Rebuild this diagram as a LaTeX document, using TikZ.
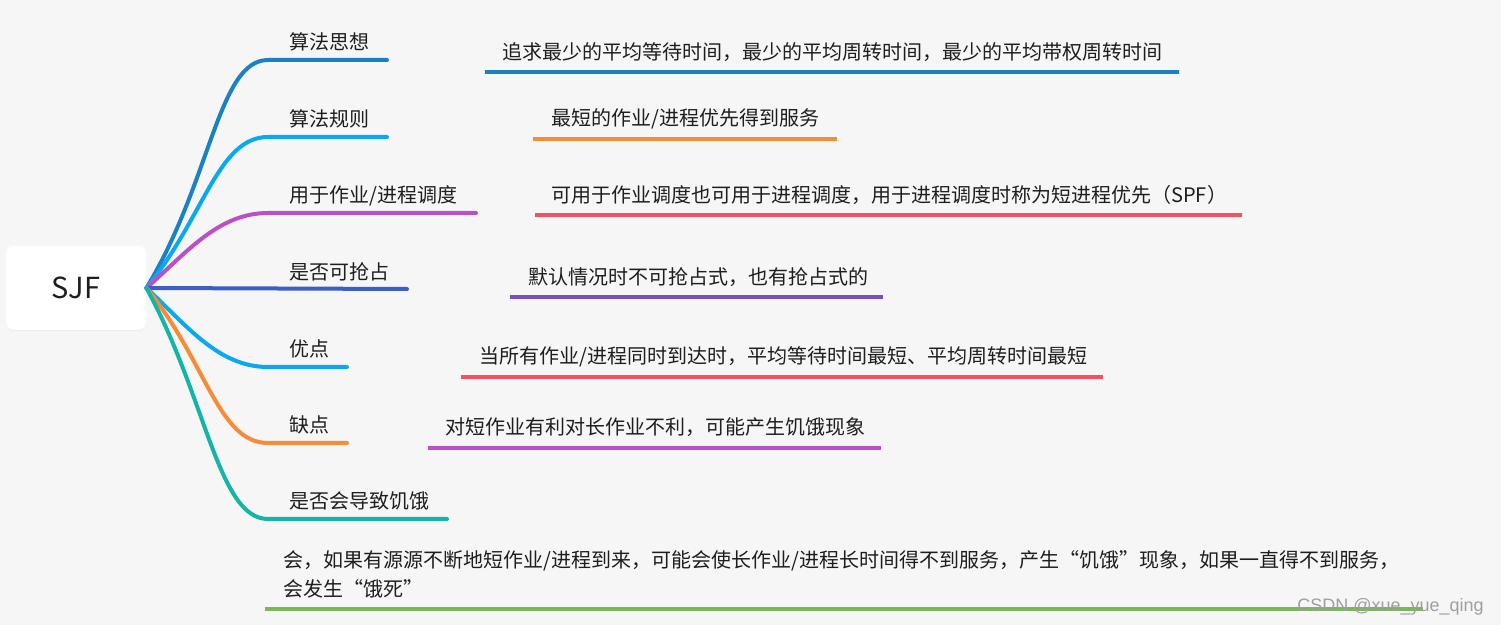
\documentclass[tikz,border=0pt]{standalone}
\usepackage{fontspec}
\setmainfont{Noto Sans CJK SC}
\newfontfamily\markfont{Liberation Sans}
\usetikzlibrary{shadows}
\definecolor{sjfBg}{HTML}{F6F6F6}
\definecolor{sjfText}{HTML}{1E1E1E}
\definecolor{sjfBlueDark}{HTML}{1A82C4}
\definecolor{sjfBlueLight}{HTML}{0AA8EE}
\definecolor{sjfPurple}{HTML}{BB4FC7}
\definecolor{sjfIndigo}{HTML}{3D5EC4}
\definecolor{sjfOrange}{HTML}{F68B38}
\definecolor{sjfTeal}{HTML}{13B5A6}
\definecolor{sjfRed}{HTML}{F64F62}
\definecolor{sjfViolet}{HTML}{7A4FC3}
\definecolor{sjfGreen}{HTML}{7BB75A}
\begin{document}
\begin{tikzpicture}
% SJF mind map, coordinates in pixels of the screenshot
\def\px{0.5pt}
\providecommand{\sjfBranchWidth}{2pt}
\providecommand{\sjfLineWidth}{1.8pt}
\begin{scope}[x=\px, y=-\px, line cap=round, line join=round,
  branch/.style={line width=\sjfBranchWidth},
  uline/.style={line width=\sjfLineWidth, line cap=butt},
  lbl/.style={inner sep=0pt, anchor=base west, text=sjfText,
    font=\fontsize{10}{14.5}\selectfont}]
  % Background
  \fill[sjfBg] (0,0) rectangle (1501,625);
  % Root
  \node[fill=white, rounded corners=4pt, minimum width=70pt, minimum height=42pt,
    inner sep=0pt, text=sjfText, font=\fontsize{14.5}{18}\selectfont,
    drop shadow={shadow xshift=0pt, shadow yshift=-0.6pt, opacity=0.06}] (root) at (76,288) {SJF};
  % Branch labels
  \node[lbl] (b1) at (289,50) {算法思想};
  \node[lbl] (b2) at (289,127) {算法规则};
  \node[lbl] (b3) at (289,203) {用于作业/进程调度};
  \node[lbl] (b4) at (289,280) {是否可抢占};
  \node[lbl] (b5) at (289,357) {优点};
  \node[lbl] (b6) at (289,433) {缺点};
  \node[lbl] (b7) at (289,509) {是否会导致饥饿};
  % Ends of the branch lines
  \coordinate (b1s) at (268,60);  \coordinate (b1e) at (387,60);
  \coordinate (b2s) at (268,137); \coordinate (b2e) at (387,137);
  \coordinate (b3s) at (268,213); \coordinate (b3e) at (476,213);
  \coordinate (b4e) at (407,289);
  \coordinate (b5s) at (268,367); \coordinate (b5e) at (347,367);
  \coordinate (b6s) at (268,443); \coordinate (b6e) at (347,443);
  \coordinate (b7s) at (268,519); \coordinate (b7e) at (447,519);
  % Branches
  \draw[branch, sjfBlueDark] (root.east) .. controls +(65,-107) and +(-50,0) .. (b1s) -- (b1e);
  \draw[branch, sjfBlueLight] (root.east) .. controls +(58,-71) and +(-50,0) .. (b2s) -- (b2e);
  \draw[branch, sjfPurple] (root.east) .. controls +(40,-35) and +(-50,0) .. (b3s) -- (b3e);
  \draw[branch, sjfIndigo] (root.east) -- (b4e);
  \draw[branch, sjfBlueLight] (root.east) .. controls +(40,37) and +(-50,0) .. (b5s) -- (b5e);
  \draw[branch, sjfOrange] (root.east) .. controls +(60,73) and +(-50,0) .. (b6s) -- (b6e);
  \draw[branch, sjfTeal] (root.east) .. controls +(60,109) and +(-50,0) .. (b7s) -- (b7e);
  % Leaves
  \node[lbl] (l1) at (502,60) {追求最少的平均等待时间，最少的平均周转时间，最少的平均带权周转时间};
  \node[lbl] (l2) at (551,126) {最短的作业/进程优先得到服务};
  \node[lbl] (l3) at (551,203) {可用于作业调度也可用于进程调度，用于进程调度时称为短进程优先（SPF）};
  \node[lbl] (l4) at (528,285) {默认情况时不可抢占式，也有抢占式的};
  \node[lbl] (l5) at (479,364) {当所有作业/进程同时到达时，平均等待时间最短、平均周转时间最短};
  \node[lbl] (l6) at (445,435) {对短作业有利对长作业不利，可能产生饥饿现象};
  % two lines: the anchor sits on the baseline of the last one
  \node[lbl, align=left] (l7) at (283,597) {会，如果有源源不断地短作业/进程到来，可能会使长作业/进程长时间得不到服务，产生“饥饿”现象，如果一直得不到服务，\\会发生“饿死”};
  % Underlines of the leaves
  \draw[uline, sjfBlueDark] (485,72) -- (1179,72);
  \draw[uline, sjfOrange] (533,139) -- (837,139);
  \draw[uline, sjfRed] (535,215) -- (1242,215);
  \draw[uline, sjfViolet] (510,297) -- (883,297);
  \draw[uline, sjfRed] (461,377) -- (1103,377);
  \draw[uline, sjfPurple] (428,448) -- (881,448);
  \draw[uline, sjfGreen] (265,609) -- (1423,609);
  % Watermark
  \node[anchor=base west, inner sep=0pt, text=gray!75, font=\markfont\fontsize{9}{10}\selectfont] (mark) at (1297,612) {CSDN @xue\_yue\_qing};
\end{scope}
\end{tikzpicture}
\end{document}
